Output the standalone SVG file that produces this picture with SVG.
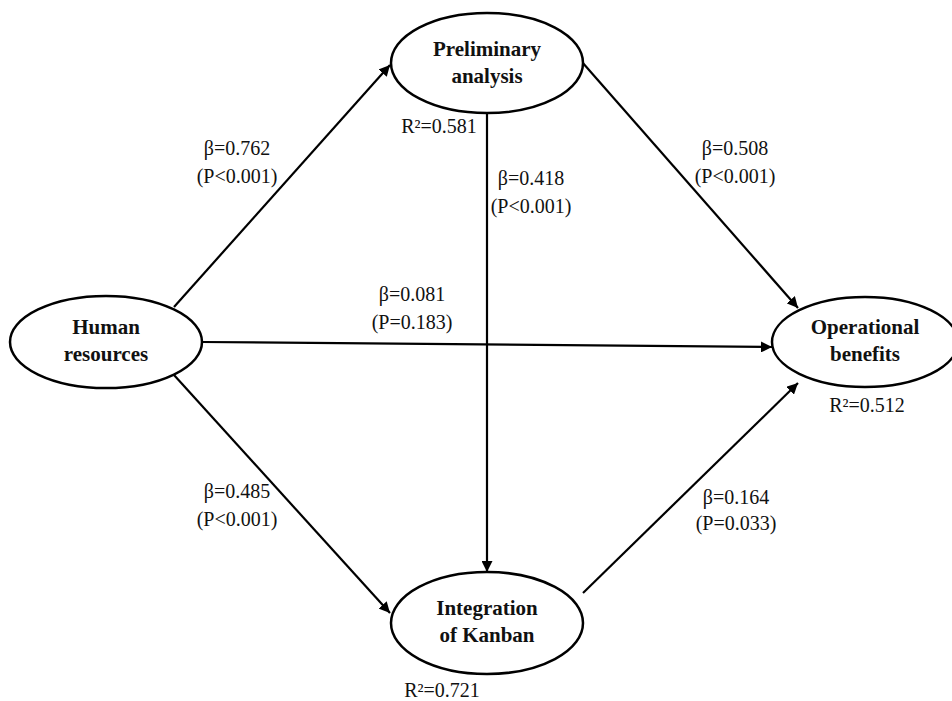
<svg xmlns="http://www.w3.org/2000/svg" width="952" height="701" viewBox="0 0 952 701">
<style>
.node{fill:#fff;stroke:#000;stroke-width:2.5}
.nt{font-family:"Liberation Serif","DejaVu Serif",serif;font-size:21px;font-weight:bold;text-anchor:middle;fill:#111}
.lb{font-family:"Liberation Serif","DejaVu Serif",serif;font-size:20px;text-anchor:middle;fill:#111}
.c{stroke:#000;stroke-width:2.2;fill:none;marker-end:url(#ah)}
</style>
<defs>
<marker id="ah" viewBox="0 0 10 10" refX="10" refY="5" markerWidth="5" markerHeight="5" orient="auto" markerUnits="strokeWidth">
<path d="M0,0 L10,5 L0,10 Z" fill="#000"/>
</marker>
</defs>
<g id="connectors">
<line class="c" x1="174" y1="307" x2="390" y2="65"/>
<line class="c" x1="582" y1="62" x2="798" y2="308"/>
<line class="c" x1="487" y1="113" x2="487" y2="572"/>
<line class="c" x1="202" y1="342" x2="772" y2="347"/>
<line class="c" x1="174" y1="375" x2="390" y2="613"/>
<line class="c" x1="583" y1="593" x2="798" y2="383"/>
</g>
<g id="preliminary">
<ellipse class="node" cx="487" cy="63" rx="96" ry="50"/>
<text class="nt" x="487" y="56">Preliminary</text>
<text class="nt" x="487" y="83">analysis</text>
</g>
<g id="human">
<ellipse class="node" cx="106" cy="342" rx="96" ry="46"/>
<text class="nt" x="106" y="334">Human</text>
<text class="nt" x="106" y="361">resources</text>
</g>
<g id="operational">
<ellipse class="node" cx="865" cy="342" rx="93" ry="45"/>
<text class="nt" x="865" y="334">Operational</text>
<text class="nt" x="865" y="361">benefits</text>
</g>
<g id="kanban">
<ellipse class="node" cx="487" cy="623" rx="96" ry="51"/>
<text class="nt" x="487" y="615">Integration</text>
<text class="nt" x="487" y="642">of Kanban</text>
</g>
<g id="labels">
<text class="lb" x="237" y="155">β=0.762</text>
<text class="lb" x="237" y="183">(P&lt;0.001)</text>
<text class="lb" x="439" y="133">R²=0.581</text>
<text class="lb" x="531" y="185">β=0.418</text>
<text class="lb" x="531" y="213">(P&lt;0.001)</text>
<text class="lb" x="735" y="155">β=0.508</text>
<text class="lb" x="735" y="183">(P&lt;0.001)</text>
<text class="lb" x="412" y="301">β=0.081</text>
<text class="lb" x="412" y="329">(P=0.183)</text>
<text class="lb" x="867" y="412">R²=0.512</text>
<text class="lb" x="237" y="498">β=0.485</text>
<text class="lb" x="237" y="526">(P&lt;0.001)</text>
<text class="lb" x="736" y="504">β=0.164</text>
<text class="lb" x="736" y="530">(P=0.033)</text>
<text class="lb" x="442" y="697">R²=0.721</text>
</g>
</svg>
